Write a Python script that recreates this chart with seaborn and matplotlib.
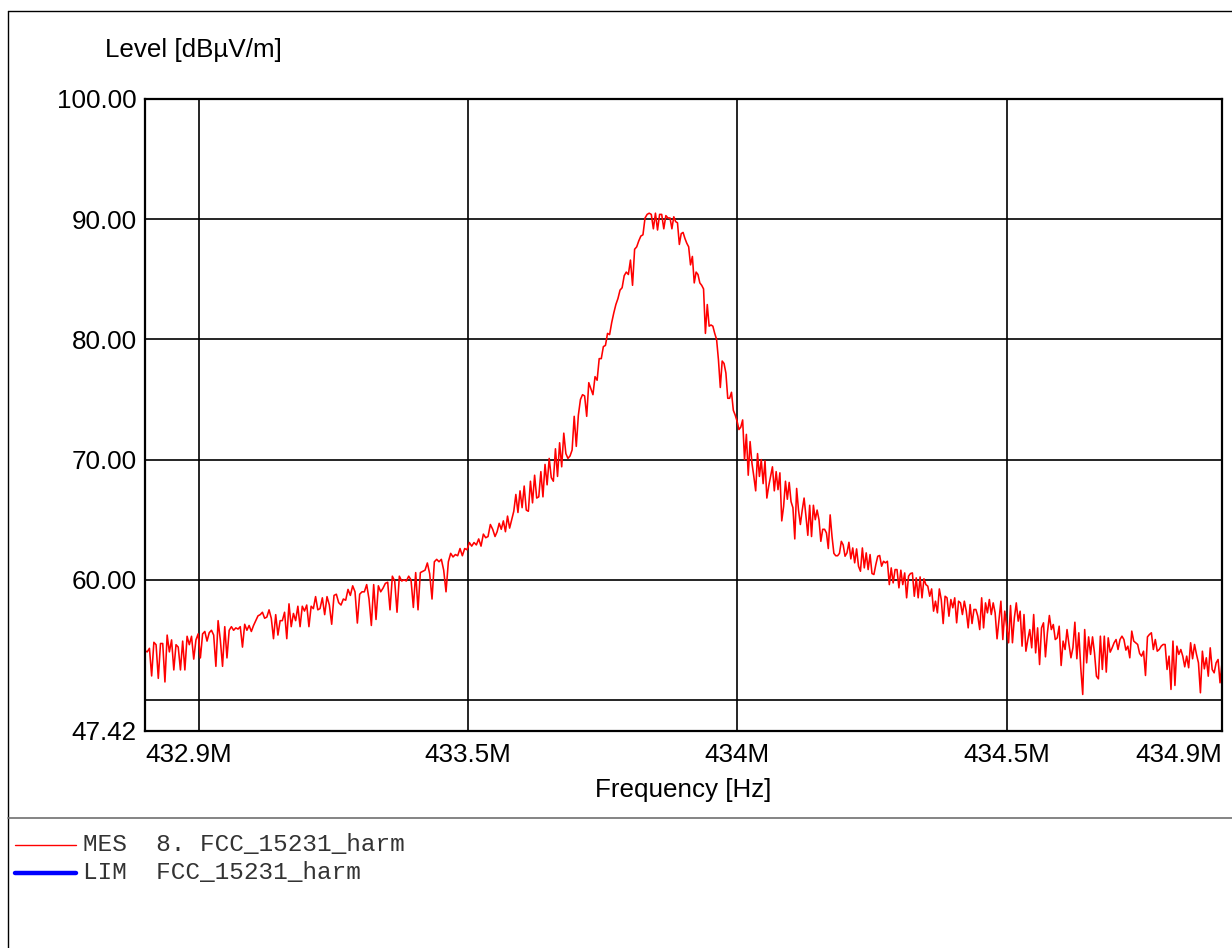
import numpy as np
import pandas as pd
import matplotlib
matplotlib.use("Agg")
import matplotlib.pyplot as plt
from matplotlib.lines import Line2D
import seaborn as sns

# ---- data ----
# sweep is stored in six consecutive pieces; edges in MHz
seg_edges = [432.9, 433.225, 433.55, 433.875, 434.2, 434.543, 434.9]

level_seg1 = [54.1, 54.0, 54.3, 52.0, 54.8, 54.6, 51.8, 54.7, 54.7, 51.5, 55.4, 54.0, 55.0, 52.5,
              54.6, 54.4, 52.5, 54.9, 52.5, 55.3, 54.6, 55.3, 53.4, 55.0, 55.5, 53.5, 55.5, 55.7,
              54.9, 55.6, 55.8, 55.4, 52.8, 56.6, 55.0, 52.8, 56.1, 53.5, 55.8, 56.1, 55.8, 56.0,
              55.9, 56.1, 54.4, 56.3, 55.8, 56.2, 55.7, 56.2, 56.6, 57.0, 57.1, 57.3, 56.8, 56.9,
              57.5, 56.8, 55.1, 57.1, 55.4, 56.6, 56.6, 57.3, 55.1, 58.0, 56.1, 57.2, 56.6, 57.8,
              56.1, 57.8, 57.4, 57.9, 56.1, 57.8, 57.6, 58.6, 57.5]

level_seg2 = [57.6, 58.5, 57.1, 58.6, 57.9, 56.3, 58.7, 58.8, 58.1, 57.9, 58.4, 58.3, 59.2, 58.7,
              59.5, 59.0, 56.4, 58.8, 59.0, 59.0, 59.6, 58.4, 56.2, 59.6, 56.7, 59.5, 59.0, 59.3,
              59.7, 59.8, 57.5, 60.3, 59.9, 57.3, 60.3, 59.9, 60.0, 59.9, 60.3, 60.0, 57.7, 60.6,
              57.5, 60.6, 60.7, 60.8, 61.4, 60.5, 58.4, 61.5, 61.7, 61.5, 61.7, 60.8, 59.0, 61.5,
              62.2, 61.9, 62.1, 62.0, 62.6, 62.0, 62.6, 62.5, 63.1, 62.8, 63.1, 62.9, 63.4, 62.8,
              63.8, 63.5, 63.6, 64.6, 64.2]

level_seg3 = [63.6, 64.0, 64.7, 64.2, 64.9, 64.0, 65.3, 64.3, 65.0, 65.7, 67.1, 65.6, 67.4, 66.0,
              67.8, 65.8, 65.7, 68.2, 66.4, 68.7, 66.8, 66.9, 69.0, 66.9, 69.6, 67.9, 70.1, 68.5,
              68.2, 70.9, 68.6, 71.4, 69.4, 72.2, 70.5, 70.1, 70.3, 70.8, 73.6, 71.1, 73.7, 75.0,
              75.4, 75.3, 73.6, 76.4, 75.9, 75.4, 76.9, 76.6, 78.4, 78.4, 79.4, 79.5, 80.5, 80.4,
              81.4, 82.2, 82.9, 83.4, 84.1, 84.3, 85.3, 85.6, 85.4, 86.6, 84.5, 87.5, 87.7, 88.2,
              88.6, 88.7, 90.1, 90.4, 90.5, 90.4, 89.2, 90.5, 89.1, 90.4, 90.4, 89.2, 90.3, 90.1]

level_seg4 = [90.1, 89.2, 90.2, 89.8, 89.7, 87.9, 88.8, 88.9, 88.4, 88.0, 87.7, 86.2, 86.9, 84.7,
              85.6, 85.4, 84.7, 84.5, 84.2, 80.5, 82.9, 81.1, 81.2, 81.1, 80.5, 80.0, 78.3, 76.0,
              78.2, 78.0, 77.2, 75.1, 75.1, 75.6, 74.1, 73.7, 73.2, 72.5, 72.7, 73.3, 70.0, 72.1,
              68.7, 71.5, 69.7, 68.6, 67.4, 70.5, 68.6, 70.0, 68.0, 69.9, 66.8, 67.8, 68.6, 69.4,
              67.4, 69.0, 67.5, 68.9, 64.9, 66.1, 68.2, 66.7, 68.1, 66.5, 66.0, 63.4, 67.6, 65.8,
              64.6, 65.8, 66.8, 65.3, 63.7, 66.2, 63.6, 66.2, 65.0, 65.8, 65.0, 63.2, 64.2, 64.2,
              63.9, 62.6, 65.4, 63.6, 62.2, 62.0, 62.0, 62.2, 63.2, 62.9]

level_seg5 = [61.96, 62.24, 63.12, 61.74, 62.65, 61.41, 62.57, 61.13, 60.71, 62.65, 60.99, 62.24,
              60.85, 62.1, 60.52, 60.44, 61.27, 61.96, 62.02, 61.13, 61.54, 61.41, 61.54, 59.6,
              60.99, 59.74, 60.85, 60.85, 59.33, 60.8, 59.6, 60.57, 58.5, 60.3, 60.52, 60.57,
              58.63, 60.16, 58.5, 60.24, 58.5, 60.08, 59.6, 59.47, 58.63, 59.24, 57.39, 58.22,
              57.25, 59.24, 58.36, 56.36, 58.63, 58.5, 56.97, 58.36, 57.67, 58.5, 56.42, 58.22,
              58.08, 57.11, 58.22, 57.39, 56.0, 57.94, 56.36, 57.53, 57.53, 56.97, 55.86, 58.5,
              56.0, 58.08, 57.25, 58.36, 57.11, 58.08, 57.25, 55.09, 56.7, 58.22, 55.03, 57.39,
              56.14, 54.76, 57.86, 54.76, 56.83, 58.08, 56.56, 57.39, 54.48, 57.11, 54.06, 55.03]

level_seg6 = [55.86, 54.34, 57.11, 53.92, 56.0, 52.95, 56.0, 56.42, 53.59, 55.59, 57.03, 55.86,
              56.28, 55.03, 55.17, 56.14, 52.87, 54.9, 54.2, 55.86, 54.62, 53.51, 54.34, 56.47,
              53.43, 55.59, 52.68, 50.46, 55.86, 53.09, 55.25, 53.79, 55.25, 53.92, 51.98, 51.76,
              55.31, 52.54, 55.31, 52.32, 55.17, 53.98, 54.34, 54.76, 55.03, 54.2, 55.03, 55.31,
              55.03, 54.15, 54.48, 53.51, 55.73, 54.9, 54.76, 54.62, 53.87, 53.65, 54.06, 52.04,
              55.25, 55.45, 55.59, 54.2, 55.03, 54.06, 54.2, 54.48, 54.62, 54.62, 52.54, 53.65,
              50.88, 54.9, 51.21, 54.48, 53.79, 54.2, 53.65, 52.76, 53.65, 52.68, 54.76, 53.43,
              54.62, 53.79, 53.09, 50.6, 54.06, 52.59, 53.51, 51.98, 54.34, 52.54, 52.26, 53.09,
              53.37, 51.43, 53.09]

x_ticks = [432.9, 433.0, 433.5, 434.0, 434.5, 434.9]
x_ticklabels = ["432.9M", "", "433.5M", "434M", "434.5M", "434.9M"]
y_ticks = [47.42, 50, 60, 70, 80, 90, 100]
y_ticklabels = ["47.42", "", "60.00", "70.00", "80.00", "90.00", "100.00"]

legend_rows = [("MES", "8. FCC_15231_harm", "#ff0000", 1.0),
               ("LIM", "FCC_15231_harm", "#0000ff", 3.2)]

# ---- assemble the sweep ----
segments = [level_seg1, level_seg2, level_seg3, level_seg4, level_seg5, level_seg6]
freqs = []
for i, seg in enumerate(segments):
    last = i == len(segments) - 1
    freqs.append(np.linspace(seg_edges[i], seg_edges[i + 1], len(seg), endpoint=last))
df = pd.DataFrame({"freq": np.concatenate(freqs),
                   "level": np.concatenate([np.array(s, float) for s in segments])})

# ---- style ----
sns.set_style("white")
plt.rcParams["font.family"] = ["Liberation Sans", "DejaVu Sans"]
plt.rcParams["text.color"] = "black"
plt.rcParams["axes.labelcolor"] = "black"
FS = 18.7

fig = plt.figure(figsize=(12.32, 9.48), dpi=100)
ax = fig.add_axes([145 / 1232, 1 - 731 / 948, (1222 - 145) / 1232, (731 - 99) / 948])

sns.lineplot(data=df, x="freq", y="level", ax=ax, color="#ff0000", lw=1.15,
             estimator=None, sort=False, legend=False)

ax.set_xlim(432.9, 434.9)
ax.set_ylim(47.42, 100)
ax.set_xticks(x_ticks)
ax.set_xticklabels(x_ticklabels)
ax.set_yticks(y_ticks)
ax.set_yticklabels(y_ticklabels)
ax.tick_params(axis="both", length=0, labelsize=FS, colors="black")
ax.tick_params(axis="y", pad=6)
ax.tick_params(axis="x", pad=9)
lbls = ax.get_xticklabels()
lbls[0].set_horizontalalignment("left")
lbls[-1].set_horizontalalignment("right")

ax.grid(True, color="black", lw=1.2)
ax.set_axisbelow(True)
for sp in ax.spines.values():
    sp.set_visible(True)
    sp.set_color("black")
    sp.set_linewidth(1.6)

ax.set_xlabel("Frequency [Hz]", fontsize=FS, color="black")
ax.xaxis.set_label_coords(0.5, (731 - 790) / 632)
ax.xaxis.label.set_verticalalignment("center")
ax.set_ylabel("Level [dBµV/m]", fontsize=FS, rotation=0, ha="left", va="center", color="black")
ax.yaxis.set_label_coords((105 - 145) / 1077, (731 - 50) / 632)

# ---- outer frame and legend area ----
W, H = 1232, 948
def fx(px): return px / W
def fy(py): return 1 - py / H
fig.add_artist(Line2D([fx(8), 1], [fy(11), fy(11)], color="black", lw=1.0))
fig.add_artist(Line2D([fx(8), fx(8)], [0, fy(11)], color="black", lw=1.0))
fig.add_artist(Line2D([fx(8), 1], [fy(818), fy(818)], color="#707070", lw=1.2))

for k, (tag, name, col, lw) in enumerate(legend_rows):
    yy = fy(845 + 28 * k)
    fig.add_artist(Line2D([fx(15), fx(76)], [yy, yy], color=col, lw=lw,
                          solid_capstyle="round"))
    fig.text(fx(83), yy + 0.001, f"{tag}  {name}", family=["Liberation Mono", "DejaVu Sans Mono"],
             fontsize=17.6, va="center", ha="left", color="#333333")

fig.savefig("out.png", dpi=100)
